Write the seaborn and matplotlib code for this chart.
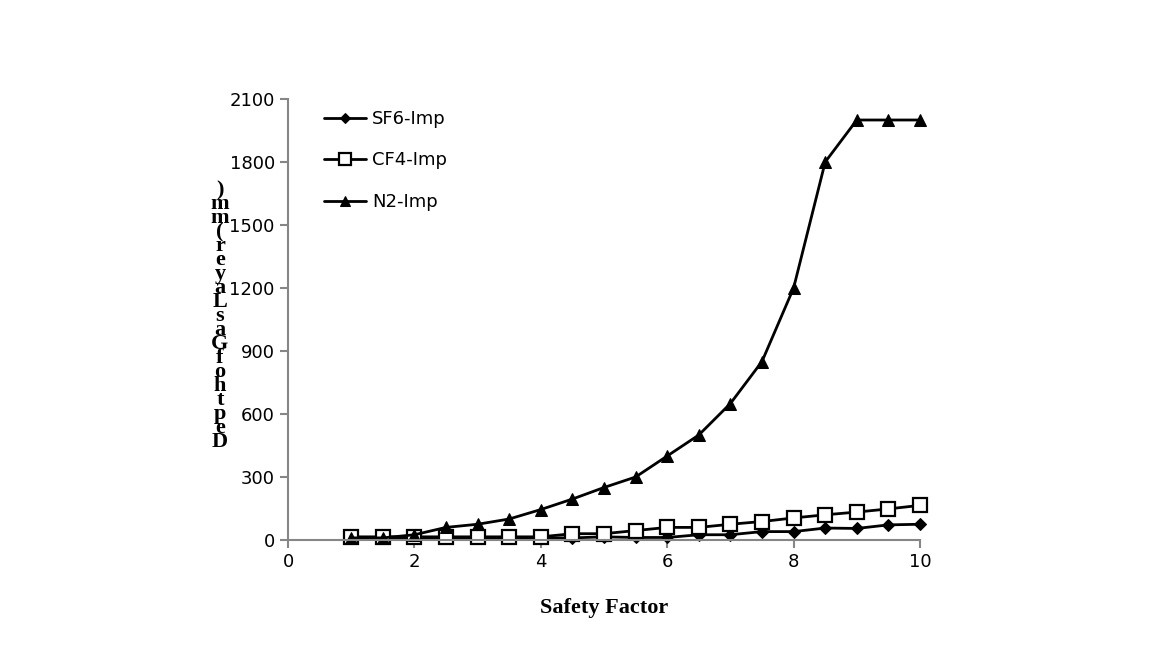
import matplotlib
matplotlib.use("Agg")
import matplotlib.pyplot as plt
import seaborn as sns
import pandas as pd

safety_factor = [1, 1.5, 2, 2.5, 3, 3.5, 4, 4.5, 5, 5.5, 6, 6.5, 7, 7.5, 8, 8.5, 9, 9.5, 10]
sf6_imp = [10, 10, 10, 10, 10, 10, 10, 10, 15, 12, 12, 25, 25, 40, 40, 57, 55, 72, 75]
cf4_imp = [15, 15, 15, 15, 15, 15, 15, 30, 30, 45, 60, 60, 75, 88, 105, 120, 133, 148, 165]
n2_imp = [10, 10, 25, 60, 75, 100, 145, 195, 250, 300, 400, 500, 650, 850, 1200, 1800, 2000, 2000, 2000]

x_ticks = [0, 2, 4, 6, 8, 10]
y_ticks = [0, 300, 600, 900, 1200, 1500, 1800, 2100]
y_label = "Depth of Gas Layer (mm)"

sns.set_style("ticks")
plt.rcParams["font.family"] = ["DejaVu Sans"]
plt.rcParams["text.color"] = "black"
plt.rcParams["axes.labelcolor"] = "black"

fig = plt.figure(figsize=(11.5, 6.51), dpi=100)
ax = fig.add_axes([288 / 1150, 111 / 651, 632 / 1150, 441 / 651])

grey = "#868686"
series = [
    ("SF6-Imp", sf6_imp, dict(marker="D", markersize=6, markerfacecolor="black")),
    ("CF4-Imp", cf4_imp, dict(marker="s", markersize=10, markerfacecolor="white",
                              markeredgewidth=1.6)),
    ("N2-Imp", n2_imp, dict(marker="^", markersize=9, markerfacecolor="black")),
]
for name, vals, style in series:
    df = pd.DataFrame({"x": safety_factor, "y": vals})
    sns.lineplot(data=df, x="x", y="y", ax=ax, color="black", linewidth=2,
                 markeredgecolor="black", label=name, clip_on=False, **style)

ax.set_xlim(0, 10)
ax.set_ylim(0, 2100)
ax.set_xticks(x_ticks)
ax.set_yticks(y_ticks)
ax.tick_params(axis="both", colors=grey, labelcolor="black", labelsize=13,
               length=6, width=1.5, direction="out")
for side in ["top", "right"]:
    ax.spines[side].set_visible(False)
for side in ["left", "bottom"]:
    ax.spines[side].set_color(grey)
    ax.spines[side].set_linewidth(1.5)

ax.set_xlabel("Safety Factor", fontsize=16, fontweight="bold",
              family="Liberation Serif", labelpad=19)
ax.set_ylabel("")

# stacked upright letters, read from bottom to top
stacked = "\n".join(reversed(y_label.replace(" ", "")))
fig.text(220 / 1150, 335 / 651, stacked, ha="center", va="center",
         fontsize=16, fontweight="bold", family="Liberation Serif",
         linespacing=0.6)

leg = ax.legend(loc="upper left", bbox_to_anchor=(0.032, 1.012), frameon=False,
                fontsize=13, handlelength=2.3, labelspacing=1.3, handletextpad=0.35,
                markerscale=0.8)

fig.savefig("out.png", dpi=100)
